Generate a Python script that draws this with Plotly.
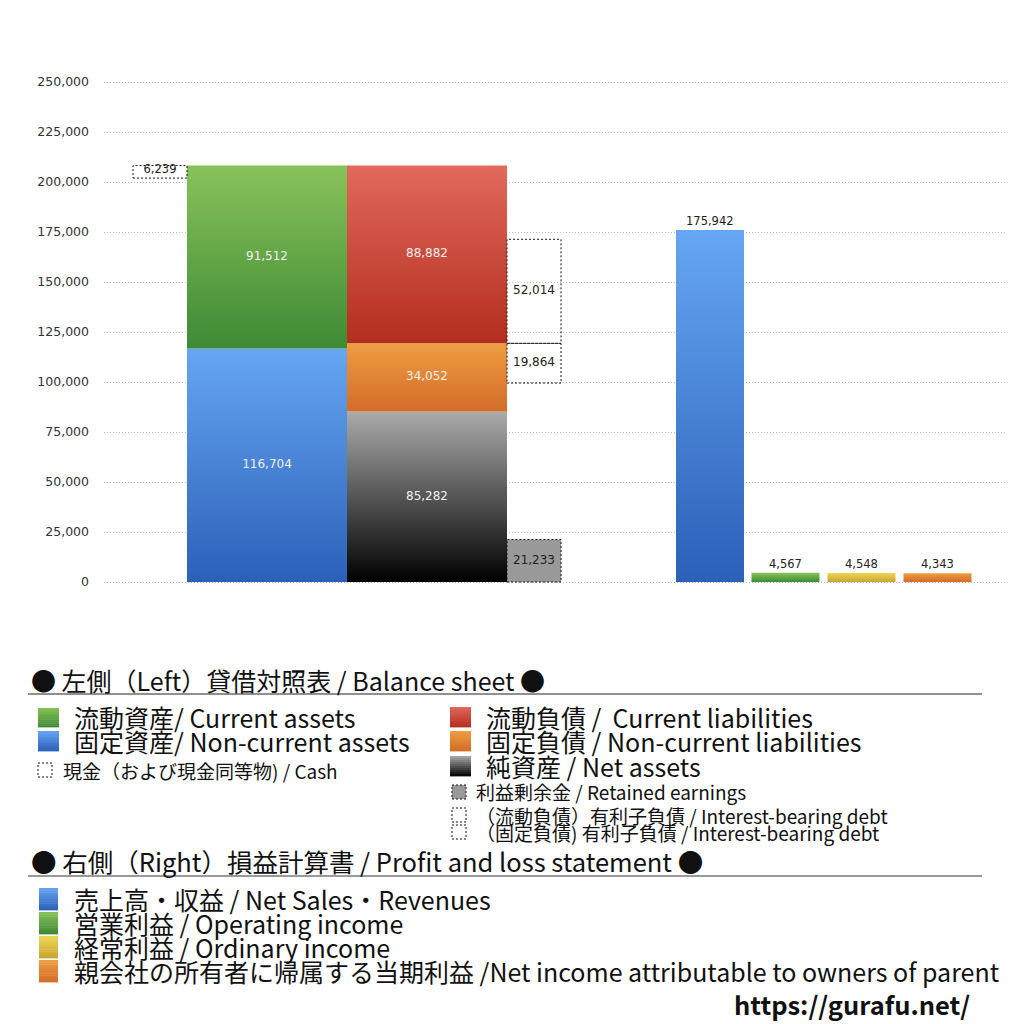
import plotly.graph_objects as go

# ---------------- data ----------------
bs_asset_names = ["固定資産/ Non-current assets", "流動資産/ Current assets"]
bs_asset_values = [116704, 91512]
bs_liab_names = ["純資産 / Net assets", "固定負債 / Non-current liabilities", "流動負債 /  Current liabilities"]
bs_liab_values = [85282, 34052, 88882]
cash_value = 6239
retained_value = 21233
ibd_noncurrent_value = 19864
ibd_current_value = 52014
pl_names = ["売上高・収益 / Net Sales・Revenues", "営業利益 / Operating income",
            "経常利益 / Ordinary income", "親会社の所有者に帰属する当期利益 /Net income attributable to owners of parent"]
pl_values = [175942, 4567, 4548, 4343]
y_ticks = [0, 25000, 50000, 75000, 100000, 125000, 150000, 175000, 200000, 225000, 250000]

# ---------------- style ----------------
FONT = "Noto Sans CJK JP"
NUMFONT = "DejaVu Sans"
grad_green = [[0, "#3E8A34"], [1, "#88C25A"]]
grad_blue = [[0, "#2B60B8"], [1, "#66A6F2"]]
grad_red = [[0, "#B32E1E"], [1, "#E2695C"]]
grad_orange = [[0, "#D36C28"], [1, "#EE9D42"]]
grad_black = [[0, "#000000"], [1, "#ABABAB"]]
grad_yellow = [[0, "#C9A62E"], [1, "#EDD656"]]

X_CASH, X_ASSET, X_LIAB, X_SIDE = 56, 163, 323, 430
W_MAIN, W_SIDE = 160, 54
X_PL = [606, 681.5, 757.5, 833.5]
W_PL = 68

fig = go.Figure()


def rect(xc, w, base, val):
    x0, x1 = xc - w / 2, xc + w / 2
    return [x0, x1, x1, x0, x0], [base, base, base + val, base + val, base]


def grad_bar(xc, w, base, val, scale, name):
    xs, ys = rect(xc, w, base, val)
    fig.add_trace(go.Scatter(x=xs, y=ys, mode="lines", fill="toself",
                             fillgradient=dict(type="vertical", colorscale=scale),
                             line=dict(width=0), name=name, hoverinfo="skip",
                             showlegend=False))


def dash_box(xc, w, base, val, fill=None):
    xs, ys = rect(xc, w, base, val)
    kw = dict(fill="toself", fillcolor=fill) if fill else {}
    fig.add_trace(go.Scatter(x=xs, y=ys, mode="lines", line=dict(color="#111", width=1, dash="2px,2px"),
                             hoverinfo="skip", showlegend=False, **kw))


def label(xc, y, val, color, size=12):
    fig.add_trace(go.Scatter(x=[xc], y=[y], mode="text", text=[f"{val:,}"],
                             textfont=dict(family=NUMFONT, size=size, color=color),
                             hoverinfo="skip", showlegend=False))


# assets column
asset_scales = [grad_blue, grad_green]
base = 0
for v, s, n in zip(bs_asset_values, asset_scales, bs_asset_names):
    grad_bar(X_ASSET, W_MAIN, base, v, s, n)
    label(X_ASSET, base + v / 2, v, "#F0F0F0")
    base += v
asset_total = base

# liabilities column
liab_scales = [grad_black, grad_orange, grad_red]
base = 0
liab_tops = []
for v, s, n in zip(bs_liab_values, liab_scales, bs_liab_names):
    grad_bar(X_LIAB, W_MAIN, base, v, s, n)
    label(X_LIAB, base + v / 2, v, "#F0F0F0")
    base += v
    liab_tops.append(base)

# cash box
dash_box(X_CASH, W_SIDE, asset_total - cash_value, cash_value)
label(X_CASH, asset_total - cash_value / 2 + 600, cash_value, "#222", 11.5)

# retained earnings
dash_box(X_SIDE, W_SIDE, 0, retained_value, fill="#999999")
label(X_SIDE, retained_value / 2, retained_value, "#222", 12)

# interest-bearing debt
ref = liab_tops[1]
dash_box(X_SIDE, W_SIDE, ref - ibd_noncurrent_value, ibd_noncurrent_value)
label(X_SIDE, ref - ibd_noncurrent_value / 2, ibd_noncurrent_value, "#222", 12)
dash_box(X_SIDE, W_SIDE, ref, ibd_current_value)
label(X_SIDE, ref + ibd_current_value / 2, ibd_current_value, "#222", 12)

# P/L bars
pl_scales = [grad_blue, grad_green, grad_yellow, grad_orange]
for xc, v, s, n in zip(X_PL, pl_values, pl_scales, pl_names):
    grad_bar(xc, W_PL, 0, v, s, n)
    fig.add_annotation(x=xc, y=v, text=f"{v:,}", showarrow=False, yanchor="bottom", yshift=0,
                       font=dict(family=NUMFONT, size=11.5, color="#222"))

# ---------------- layout ----------------
# screen coordinates (page has an 8px body offset)
OFF = 8
L, R, T, B = 104, 1006, 80, 584   # 2px per 1000 with the padded range below
Y_RANGE = [-1000, 251000]
W = H = 1016


def px(x):
    return (x - L) / (R - L)


def py(y):
    return (B - y) / (B - T)


fig.update_layout(
    width=W, height=H,
    margin=dict(l=L - OFF, r=W - (R - OFF), t=T - OFF, b=H - (B - OFF)),
    paper_bgcolor="white", plot_bgcolor="white",
    showlegend=False,
    xaxis=dict(range=[0, R - L], visible=False, fixedrange=True),
    yaxis=dict(range=Y_RANGE, tickvals=y_ticks, ticktext=[f"{v:,}" for v in y_ticks],
               showgrid=True, gridcolor="#BDBDBD", griddash="1px,2px", gridwidth=1,
               zeroline=False, showline=False, ticks="", ticklabelstandoff=14,
               tickfont=dict(family=NUMFONT, size=12.5, color="#333")),
)

shapes = []
annots = []


def text(x, y, s, size, color="#111", weight=None, family=FONT):
    f = dict(family=family, size=size, color=color)
    if weight:
        f["weight"] = weight
    annots.append(dict(x=px(x), y=py(y), xref="paper", yref="paper", text=s, showarrow=False,
                       xanchor="left", yanchor="middle", font=f, borderpad=0))


def sq(x0, y0, x1, y1, color):
    shapes.append(dict(type="rect", xref="paper", yref="paper", x0=px(x0), x1=px(x1), y0=py(y0), y1=py(y1),
                       line=dict(width=0), fillcolor=color))


def dsq(x0, y0, x1, y1, color="rgba(0,0,0,0)"):
    shapes.append(dict(type="rect", xref="paper", yref="paper", x0=px(x0), x1=px(x1), y0=py(y0), y1=py(y1),
                       line=dict(color="#111", width=1, dash="2px,2px"), fillcolor=color))


def hexmix(c0, c1, t):
    a = [int(c0[i:i + 2], 16) for i in (1, 3, 5)]
    b = [int(c1[i:i + 2], 16) for i in (1, 3, 5)]
    return "#" + "".join(f"{round(a[k] + (b[k] - a[k]) * t):02X}" for k in range(3))


def gsq(x0, y0, x1, y1, scale, n=10):
    # vertical gradient square (top light, bottom dark)
    h = (y1 - y0) / n
    for i in range(n):
        t = 1 - (i + 0.5) / n
        c = hexmix(scale[0][1], scale[1][1], t)
        sq(x0, y0 + i * h, x1, y0 + (i + 1) * h + 0.4, c)


# left header
text(30, 680, "● 左側（Left）貸借対照表 / Balance sheet ●", 25)
shapes.append(dict(type="line", xref="paper", yref="paper", x0=px(28), x1=px(982), y0=py(694), y1=py(694),
                   line=dict(color="#222", width=1)))
# left legend col 1
gsq(38, 708, 59, 727, grad_green); text(73, 717, "流動資産/ Current assets", 25)
gsq(38, 731, 59, 751, grad_blue); text(73, 741, "固定資産/ Non-current assets", 25)
dsq(38, 763, 52, 777); text(62, 770, "現金（および現金同等物) / Cash", 19)
# col 2
gsq(450, 707, 471, 727, grad_red); text(485, 717, "流動負債 /  Current liabilities", 25)
gsq(450, 731, 471, 751, grad_orange); text(485, 741, "固定負債 / Non-current liabilities", 25)
gsq(450, 756, 471, 776, grad_black); text(485, 766, "純資産 / Net assets", 25)
dsq(452, 785, 466, 799, "#999999"); text(475, 792, "利益剰余金 / Retained earnings", 19)
dsq(452, 808, 466, 822); text(475, 815, "（流動負債）有利子負債 / Interest-bearing debt", 19)
dsq(452, 825, 466, 839); text(475, 832, "（固定負債) 有利子負債 / Interest-bearing debt", 19)

# right header
text(30, 860, "● 右側（Right）損益計算書 / Profit and loss statement ●", 25.5)
shapes.append(dict(type="line", xref="paper", yref="paper", x0=px(28), x1=px(982), y0=py(876), y1=py(876),
                   line=dict(color="#777", width=1.5)))
pl_leg_scales = [grad_blue, grad_green, grad_yellow, grad_orange]
for i, (n, s) in enumerate(zip(pl_names, pl_leg_scales)):
    yy = 899 + 24 * i
    gsq(39, yy - 11, 58, yy + 11, s)
    text(73, yy, n, 25)

text(733, 1003, "https://gurafu.net/", 25.5, weight="bold")

fig.update_layout(shapes=shapes, annotations=list(fig.layout.annotations) + annots)

fig.write_html("out.html")
